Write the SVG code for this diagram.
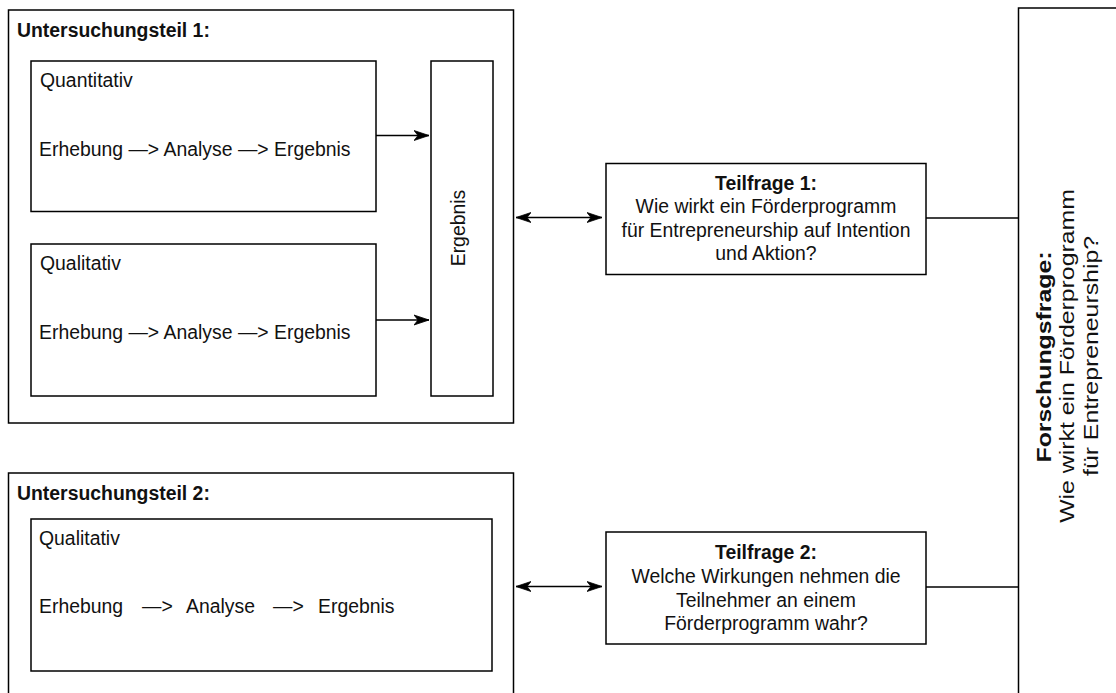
<svg xmlns="http://www.w3.org/2000/svg" width="1116" height="693" viewBox="0 0 1116 693">
  <style>
    .box { fill: #fff; stroke: #000; stroke-width: 1.5; }
    .edge { fill: none; stroke: #000; stroke-width: 1.5; }
    .t { font-family: "Liberation Sans", Arial, Helvetica, sans-serif; font-size: 19.4px; fill: #111; }
    .b { font-weight: bold; }
    .c { text-anchor: middle; }
  </style>
  <defs>
    <marker id="arrow" markerUnits="userSpaceOnUse" markerWidth="16" markerHeight="12" viewBox="0 0 16 12" refX="15" refY="6" orient="auto-start-reverse">
      <path d="M0,1 L15,6 L0,11 L4,6 Z" fill="#000" stroke="#000" stroke-width="0.8" stroke-linejoin="miter"/>
    </marker>
  </defs>

  <rect width="1116" height="693" fill="#fff"/>

  <!-- Part 1 container -->
  <g id="teil1">
    <rect class="box" x="8.5" y="10" width="505" height="413"/>
    <text class="t b" x="17" y="37">Untersuchungsteil 1:</text>
  </g>

  <g id="quantitativ">
    <rect class="box" x="31" y="61" width="345" height="150.5"/>
    <text class="t" x="40" y="87">Quantitativ</text>
    <text class="t" x="39" y="156">Erhebung —&gt; Analyse —&gt; Ergebnis</text>
  </g>

  <g id="qualitativ1">
    <rect class="box" x="31" y="244" width="345" height="152"/>
    <text class="t" x="40" y="270">Qualitativ</text>
    <text class="t" x="39" y="338.5">Erhebung —&gt; Analyse —&gt; Ergebnis</text>
  </g>

  <g id="ergebnis">
    <rect class="box" x="431" y="61" width="62" height="335"/>
    <text class="t c" transform="translate(465,228) rotate(-90)">Ergebnis</text>
  </g>

  <!-- Part 2 container -->
  <g id="teil2">
    <rect class="box" x="8.5" y="473" width="505" height="240"/>
    <text class="t b" x="17" y="500">Untersuchungsteil 2:</text>
  </g>

  <g id="qualitativ2">
    <rect class="box" x="31" y="519" width="461" height="152"/>
    <text class="t" x="39" y="545">Qualitativ</text>
    <text class="t" y="613"><tspan x="39">Erhebung</tspan><tspan x="142">—&gt;</tspan><tspan x="186">Analyse</tspan><tspan x="273">—&gt;</tspan><tspan x="318">Ergebnis</tspan></text>
  </g>

  <!-- Sub-questions -->
  <g id="teilfrage1">
    <rect class="box" x="606" y="163.5" width="320" height="111"/>
    <text class="t c" x="766" y="189.5"><tspan class="b">Teilfrage 1:</tspan></text>
    <text class="t c" x="766" y="213">Wie wirkt ein Förderprogramm</text>
    <text class="t c" x="766" y="236.5">für Entrepreneurship auf Intention</text>
    <text class="t c" x="766" y="260">und Aktion?</text>
  </g>

  <g id="teilfrage2">
    <rect class="box" x="606" y="532" width="320" height="112"/>
    <text class="t c" x="766" y="559"><tspan class="b">Teilfrage 2:</tspan></text>
    <text class="t c" x="766" y="583">Welche Wirkungen nehmen die</text>
    <text class="t c" x="766" y="606.5">Teilnehmer an einem</text>
    <text class="t c" x="766" y="630">Förderprogramm wahr?</text>
  </g>

  <!-- Main research question, set vertically and stretched along its length -->
  <g id="forschungsfrage">
    <rect class="box" x="1018.5" y="8" width="200" height="720"/>
    <text class="t b c" transform="translate(1050.5,357) rotate(-90) scale(1.28,1)">Forschungsfrage:</text>
    <text class="t c" transform="translate(1074,356) rotate(-90) scale(1.28,1)">Wie wirkt ein Förderprogramm</text>
    <text class="t c" transform="translate(1097.5,356) rotate(-90) scale(1.28,1)">für Entrepreneurship?</text>
  </g>

  <!-- Connectors -->
  <g id="connectors">
    <path class="edge" d="M376,135.5 L429,135.5" marker-end="url(#arrow)"/>
    <path class="edge" d="M376,320 L429,320" marker-end="url(#arrow)"/>
    <path class="edge" d="M516,217.5 L602,217.5" marker-start="url(#arrow)" marker-end="url(#arrow)"/>
    <path class="edge" d="M516,586.5 L602,586.5" marker-start="url(#arrow)" marker-end="url(#arrow)"/>
    <path class="edge" d="M926,218 L1018.5,218"/>
    <path class="edge" d="M926,587 L1018.5,587"/>
  </g>
</svg>
